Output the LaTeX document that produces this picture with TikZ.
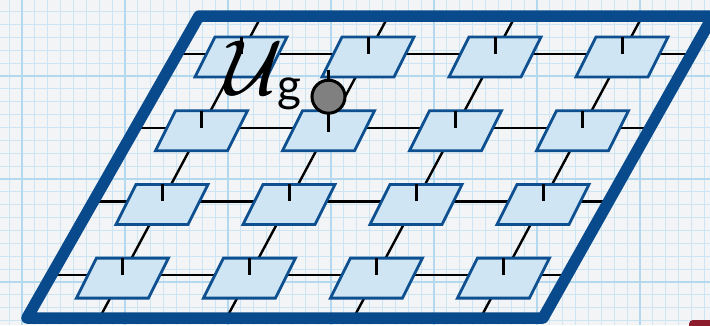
\documentclass[tikz,border=0pt]{standalone}
\usepackage{fontspec}
\newfontfamily\gfont{Lato}
\definecolor{bgc}{RGB}{243,244,245}
\definecolor{minorc}{RGB}{205,229,243}
\definecolor{majorc}{RGB}{180,216,238}
\definecolor{framec}{RGB}{8,74,140}
\definecolor{tilefill}{RGB}{207,229,244}
\definecolor{tileline}{RGB}{14,79,144}
\definecolor{redc}{RGB}{140,28,44}
\begin{document}
\begin{tikzpicture}[x=1pt,y=-1pt,
  minorline/.style={minorc,line width=0.9pt},
  majorline/.style={majorc,line width=1.8pt},
  gridline/.style={black,line width=2.4pt},
  tilebox/.style={fill=tilefill,draw=tileline,line width=2.8pt,line join=miter},
  tickline/.style={black,line width=3pt},
  framebox/.style={draw=framec,line width=11.5pt,line join=round},
  probe/.style={circle,fill=gray,draw=black,line width=3pt,minimum size=33pt,inner sep=0pt}]
\useasboundingbox (0,0) rectangle (710,325);
\begin{scope}
\clip (0,0) rectangle (710,325);
\fill[bgc] (0,0) rectangle (710,325);
\foreach \k in {-2,...,54}{\pgfmathsetmacro\xx{22+12.875*\k}\draw[minorline] (\xx,0) -- (\xx,325);}
\foreach \k in {-7,...,20}{\pgfmathsetmacro\yy{76+12.875*\k}\draw[minorline] (0,\yy) -- (710,\yy);}
\foreach \k in {-1,...,6}{\pgfmathsetmacro\xx{22+103*\k}\draw[majorline] (\xx,0) -- (\xx,325);}
\foreach \k in {-1,...,2}{\pgfmathsetmacro\yy{76+103*\k}\draw[majorline] (0,\yy) -- (710,\yy);}
\fill[redc,rounded corners=4pt] (689,320) rectangle (740,345);
% coordinates
\foreach \r in {0,...,3}{\foreach \c in {0,...,3}{
  \pgfmathsetmacro\cx{241-39.5*\r+127*\c}
  \pgfmathsetmacro\cy{54+73.7*\r}
  \coordinate (t-\r-\c) at (\cx,\cy);}}
\foreach \r in {0,...,3}{
  \pgfmathsetmacro\cy{54+73.7*\r}
  \coordinate (hL-\r) at ({199-0.57*(\cy-16)},\cy);
  \coordinate (hR-\r) at ({713-0.57*(\cy-16)},\cy);}
\foreach \c in {0,...,3}{
  \pgfmathsetmacro\cx{241+127*\c}
  \coordinate (vT-\c) at ({\cx+0.536*38},16);
  \coordinate (vB-\c) at ({\cx-0.536*264},318);}
% lattice lines
\foreach \r in {0,...,3}
  \draw[gridline] (hL-\r) -- (t-\r-0) -- (t-\r-1) -- (t-\r-2) -- (t-\r-3) -- (hR-\r);
\foreach \c in {0,...,3}
  \draw[gridline] (vT-\c) -- (t-0-\c) -- (t-1-\c) -- (t-2-\c) -- (t-3-\c) -- (vB-\c);
% tiles
\foreach \r in {0,...,3}{\foreach \c in {0,...,3}{
  \draw[tilebox] ([shift={(-26,-17)}]t-\r-\c) -- ([shift={(46,-17)}]t-\r-\c)
     -- ([shift={(26,23)}]t-\r-\c) -- ([shift={(-46,23)}]t-\r-\c) -- cycle;
  \draw[tickline] ([shift={(0,-17)}]t-\r-\c) -- (t-\r-\c);}}
% probe
\coordinate (pTop) at ([shift={(0,-58)}]t-1-1);
\draw[tickline] (pTop) -- ([shift={(0,4)}]t-1-1);
\node[probe] (dot) at ([shift={(0,-31)}]t-1-1) {};
% frame
\draw[framebox] (199,16) -- (713,16) -- (543,318) -- (27,318) -- cycle;
\end{scope}
\node[anchor=base west,inner sep=0pt,scale=7.8] (ulabel) at (224,94) {\rlap{$\mathcal{U}$}\hspace{0.13pt}$\mathcal{U}$};
\node[anchor=base west,inner sep=0pt] (glabel) at (277,101) {\gfont\fontsize{46}{46}\selectfont g};
\end{tikzpicture}
\end{document}
